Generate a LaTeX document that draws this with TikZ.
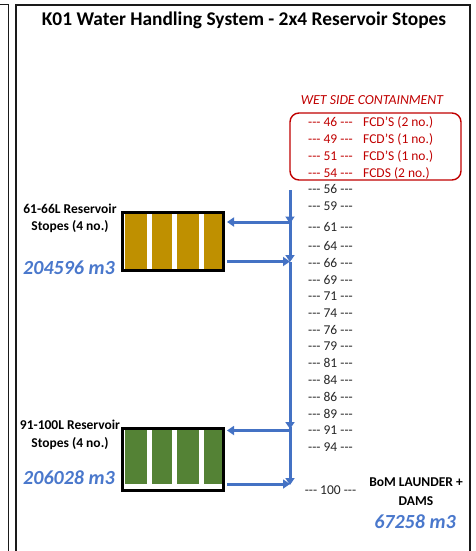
\documentclass[tikz,border=0pt]{standalone}
\usepackage{fontspec}
\setmainfont{Carlito}
\usetikzlibrary{arrows.meta}
\definecolor{ablue}{HTML}{4472C4}
\definecolor{tblue}{HTML}{4A78CC}
\definecolor{ared}{HTML}{C00000}
\definecolor{gold}{HTML}{BF9000}
\definecolor{sgreen}{HTML}{548235}
\definecolor{framec}{HTML}{1A1A1A}
\definecolor{lvl}{HTML}{262626}
\newcommand{\tdash}{\mbox{-}\mbox{-}\mbox{-}}
\tikzset{
  frame/.style={draw=framec, line width=1.4pt},
  lvltxt/.style={font=\fontsize{13.5}{14}\selectfont, text=lvl, inner sep=0pt},
  redtxt/.style={font=\fontsize{13.5}{14}\selectfont, text=ared, inner sep=0pt, anchor=west},
  lbl/.style={font=\bfseries\fontsize{13.5}{14}\selectfont, inner sep=0pt},
  vol/.style={font=\bfseries\itshape\fontsize{20}{22}\selectfont, text=tblue, inner sep=0pt},
  flow/.style={draw=ablue, line width=3pt, -{Triangle[width=9pt,length=7pt]}},
  stopebox/.style={draw=black, line width=2pt, fill=white, minimum width=100pt, inner sep=0pt},
}
\begin{document}
\begin{tikzpicture}[x=1pt,y=-1pt]
\useasboundingbox (0,0) rectangle (475,551);
% frames
\draw[frame] (0,4.5) -- (8.5,4.5) -- (8.5,551);
\draw[frame] (16,551) -- (16,5) -- (470,5) -- (470,551);
% title
\node[font=\bfseries\fontsize{19.4}{20}\selectfont, inner sep=0pt] (title) at (244,20) {K01 Water Handling System - 2x4 Reservoir Stopes};
% wet side containment
\node[font=\itshape\fontsize{13.8}{14}\selectfont, text=ared, inner sep=0pt] (wet) at (372,100.5) {WET SIDE CONTAINMENT};
\draw[draw=ared, line width=1.4pt, rounded corners=9pt] (290,113) rectangle (461,180);
\foreach \n/\y/\t in {46/122/FCD'S (2 no.), 49/139/FCD'S (1 no.), 51/156/FCD'S (1 no.), 54/173/FCDS (2 no.)}{
  \node[lvltxt, text=ared] (r\n) at (330.5,\y) {\tdash\ \n\ \tdash};
  \node[redtxt] (f\n) at (363,\y) {\t};
}
% level labels
\foreach \n/\y in {56/189,59/206,61/226.5,64/246,66/262.5,69/279.5,71/296.5,74/313.5,76/330,79/346.5,81/363,84/380,86/397,89/413.5,91/430.5,94/447.5,100/490.5}{
  \node[lvltxt] (l\n) at (330.5,\y) {\tdash\ \n\ \tdash};
}
% stope boxes
\node[stopebox, minimum height=57pt] (box1) at (173,241.5) {};
\foreach \a/\b in {124.5/147, 152/172, 177/199, 203.5/222}{
  \fill[gold] (\a,214) rectangle (\b,269);
}
\node[stopebox, minimum height=61pt] (box2) at (173,459.5) {};
\foreach \a/\b in {124.5/147, 152/172, 177/199, 203.5/222}{
  \fill[sgreen] (\a,430) rectangle (\b,484);
}
\draw[black, line width=2pt] (box1.north west) rectangle (box1.south east);
\draw[black, line width=2pt] (box2.north west) rectangle (box2.south east);
% left labels
\node[lbl] (t1a) at (70,209) {61-66L Reservoir};
\node[lbl] (t1b) at (70,227) {Stopes (4 no.)};
\node[vol] (v1) at (69,267.5) {204596 m3};
\node[lbl] (t2a) at (70,425) {91-100L Reservoir};
\node[lbl] (t2b) at (70,444) {Stopes (4 no.)};
\node[vol] (v2) at (69,478) {206028 m3};
% BoM
\node[lbl] (b1) at (416,482) {BoM LAUNDER +};
\node[lbl] (b2) at (416,501) {DAMS};
\node[vol] (v3) at (415,522) {67258 m3};
% flow coordinates
\coordinate (top) at (290,190);
\coordinate (j1) at (290,223.5);
\coordinate (j2) at (290,262);
\coordinate (j3) at (290,429);
\coordinate (j4) at (290,485);
\coordinate (e1) at (227,222);
\coordinate (e2) at (227,261.5);
\coordinate (e3) at (227,430.5);
\coordinate (e4) at (227,484);
\draw[flow] (top) -- (j1);
\draw[flow] ([yshift=3pt]j1) -- (j2);
\draw[flow] (j2) -- (j3);
\draw[flow] ([yshift=2pt]j3) -- (j4);
\draw[flow] (290,222) -- (e1);
\draw[flow] (e2) -- (290,261.5);
\draw[flow] (290,430.5) -- (e3);
\draw[flow] (e4) -- (290,484);
\end{tikzpicture}
\end{document}
